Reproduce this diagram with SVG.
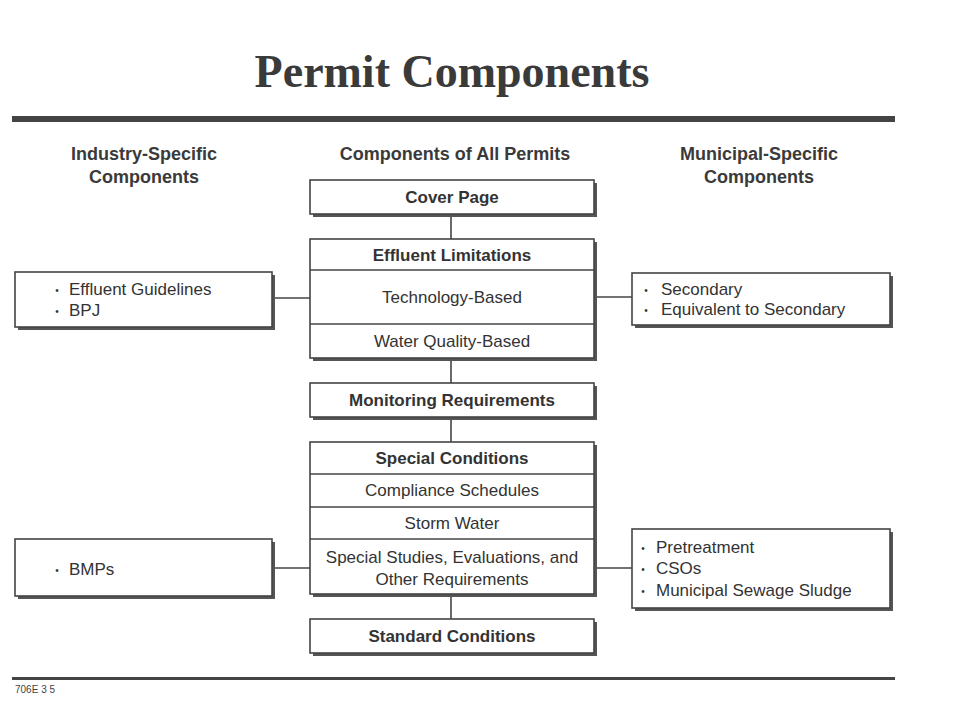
<svg xmlns="http://www.w3.org/2000/svg" width="960" height="720" viewBox="0 0 960 720">
<style>
.title{font-family:"Liberation Serif","Times New Roman",serif;font-weight:bold;font-size:46px;fill:#3a3a3a}
.hdr{font-family:"Liberation Sans",Arial,sans-serif;font-weight:bold;font-size:18px;fill:#3a3a3a;text-anchor:middle}
.b{font-family:"Liberation Sans",Arial,sans-serif;font-weight:bold;font-size:17px;fill:#333;text-anchor:middle}
.t{font-family:"Liberation Sans",Arial,sans-serif;font-size:17px;fill:#333;text-anchor:middle}
.l{font-family:"Liberation Sans",Arial,sans-serif;font-size:17px;fill:#333}
.bu{font-family:"Liberation Sans",Arial,sans-serif;font-size:10px;fill:#333;text-anchor:middle}
.sh{fill:#555}
.bx{fill:#fff;stroke:#444;stroke-width:1.6}
.dv{stroke:#444;stroke-width:1.6;fill:none}
.cn{stroke:#444;stroke-width:1.6;fill:none}
.ft{font-family:"Liberation Sans",Arial,sans-serif;font-size:10px;fill:#444}
</style>
<rect width="960" height="720" fill="#fff"/>
<text class="title" x="452" y="87" text-anchor="middle">Permit Components</text>
<rect x="12" y="116" width="883" height="6" fill="#444"/>
<rect x="12" y="677" width="883" height="3" fill="#444"/>
<text class="ft" x="15" y="693">706E 3 5</text>

<text class="hdr" x="144" y="160">Industry-Specific</text>
<text class="hdr" x="144" y="183">Components</text>
<text class="hdr" x="455" y="160">Components of All Permits</text>
<text class="hdr" x="759" y="160">Municipal-Specific</text>
<text class="hdr" x="759" y="183">Components</text>

<g id="connectors">
<line class="cn" x1="451" y1="214" x2="451" y2="239"/>
<line class="cn" x1="451" y1="358" x2="451" y2="383"/>
<line class="cn" x1="451" y1="417" x2="451" y2="442"/>
<line class="cn" x1="451" y1="594" x2="451" y2="619"/>
<line class="cn" x1="275" y1="298" x2="310" y2="298"/>
<line class="cn" x1="594" y1="297" x2="632" y2="297"/>
<line class="cn" x1="275" y1="568" x2="310" y2="568"/>
<line class="cn" x1="594" y1="568" x2="632" y2="568"/>
</g>

<g id="cover-page">
<rect class="sh" x="313" y="183" width="284" height="34"/>
<rect class="bx" x="310" y="180" width="284" height="34"/>
<text class="b" x="452" y="203">Cover Page</text>
</g>

<g id="effluent-limitations">
<rect class="sh" x="313" y="242" width="284" height="119"/>
<rect class="bx" x="310" y="239" width="284" height="119"/>
<line class="dv" x1="310" y1="270" x2="594" y2="270"/>
<line class="dv" x1="310" y1="324" x2="594" y2="324"/>
<text class="b" x="452" y="261">Effluent Limitations</text>
<text class="t" x="452" y="303">Technology-Based</text>
<text class="t" x="452" y="347">Water Quality-Based</text>
</g>

<g id="monitoring">
<rect class="sh" x="313" y="386" width="284" height="34"/>
<rect class="bx" x="310" y="383" width="284" height="34"/>
<text class="b" x="452" y="406">Monitoring Requirements</text>
</g>

<g id="special-conditions">
<rect class="sh" x="313" y="445" width="284" height="152"/>
<rect class="bx" x="310" y="442" width="284" height="152"/>
<line class="dv" x1="310" y1="474" x2="594" y2="474"/>
<line class="dv" x1="310" y1="507" x2="594" y2="507"/>
<line class="dv" x1="310" y1="539" x2="594" y2="539"/>
<text class="b" x="452" y="464">Special Conditions</text>
<text class="t" x="452" y="496">Compliance Schedules</text>
<text class="t" x="452" y="529">Storm Water</text>
<text class="t" x="452" y="563">Special Studies, Evaluations, and</text>
<text class="t" x="452" y="585">Other Requirements</text>
</g>

<g id="standard-conditions">
<rect class="sh" x="313" y="622" width="284" height="34"/>
<rect class="bx" x="310" y="619" width="284" height="34"/>
<text class="b" x="452" y="642">Standard Conditions</text>
</g>

<g id="industry-effluent">
<rect class="sh" x="18" y="275" width="257" height="55"/>
<rect class="bx" x="15" y="272" width="257" height="55"/>
<text class="bu" x="57" y="294">•</text>
<text class="l" x="69" y="295">Effluent Guidelines</text>
<text class="bu" x="57" y="315">•</text>
<text class="l" x="69" y="316">BPJ</text>
</g>

<g id="industry-bmps">
<rect class="sh" x="18" y="542" width="257" height="57"/>
<rect class="bx" x="15" y="539" width="257" height="57"/>
<text class="bu" x="57" y="574">•</text>
<text class="l" x="69" y="575">BMPs</text>
</g>

<g id="municipal-secondary">
<rect class="sh" x="635" y="276" width="258" height="52"/>
<rect class="bx" x="632" y="273" width="258" height="52"/>
<text class="bu" x="646" y="294">•</text>
<text class="l" x="661" y="295">Secondary</text>
<text class="bu" x="646" y="314">•</text>
<text class="l" x="661" y="315">Equivalent to Secondary</text>
</g>

<g id="municipal-other">
<rect class="sh" x="635" y="532" width="258" height="79"/>
<rect class="bx" x="632" y="529" width="258" height="79"/>
<text class="bu" x="643" y="552">•</text>
<text class="l" x="656" y="553">Pretreatment</text>
<text class="bu" x="643" y="573">•</text>
<text class="l" x="656" y="574">CSOs</text>
<text class="bu" x="643" y="595">•</text>
<text class="l" x="656" y="596">Municipal Sewage Sludge</text>
</g>
</svg>
